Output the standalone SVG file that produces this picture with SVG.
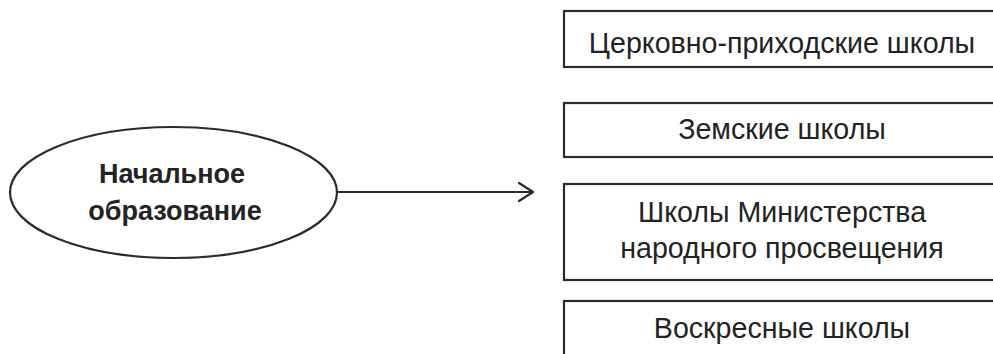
<svg xmlns="http://www.w3.org/2000/svg" width="993" height="354" viewBox="0 0 993 354">
<style>
.bg{fill:#ffffff}
.shape{fill:#ffffff;stroke:#2b2b2b;stroke-width:2.2}
.t{font-family:"Liberation Sans",Arial,sans-serif;font-size:28.6px;fill:#232323;text-anchor:middle}
.b{font-weight:bold;font-size:27px}
.conn{fill:none;stroke:#2b2b2b;stroke-width:2.2;stroke-linecap:round;stroke-linejoin:round}
</style>
<rect class="bg" x="0" y="0" width="993" height="354"/>
<g id="node-start">
<ellipse class="shape" cx="173.5" cy="192.5" rx="163.5" ry="65.5"/>
<text class="t b" x="172" y="183">Начальное</text>
<text class="t b" x="175" y="220">образование</text>
</g>
<g id="connectors">
<line class="conn" x1="337" y1="192" x2="533" y2="192"/>
<polyline class="conn" points="519,183 533,192 519,201"/>
</g>
<g id="node-1">
<rect class="shape" x="564" y="11" width="440" height="56"/>
<text class="t" x="782" y="53">Церковно-приходские школы</text>
</g>
<g id="node-2">
<rect class="shape" x="564" y="103" width="440" height="54"/>
<text class="t" x="782" y="139">Земские школы</text>
</g>
<g id="node-3">
<rect class="shape" x="564" y="184" width="440" height="96"/>
<text class="t" x="782" y="222">Школы Министерства</text>
<text class="t" x="782" y="258">народного просвещения</text>
</g>
<g id="node-4">
<rect class="shape" x="564" y="301" width="440" height="70"/>
<text class="t" x="782" y="338">Воскресные школы</text>
</g>
</svg>
